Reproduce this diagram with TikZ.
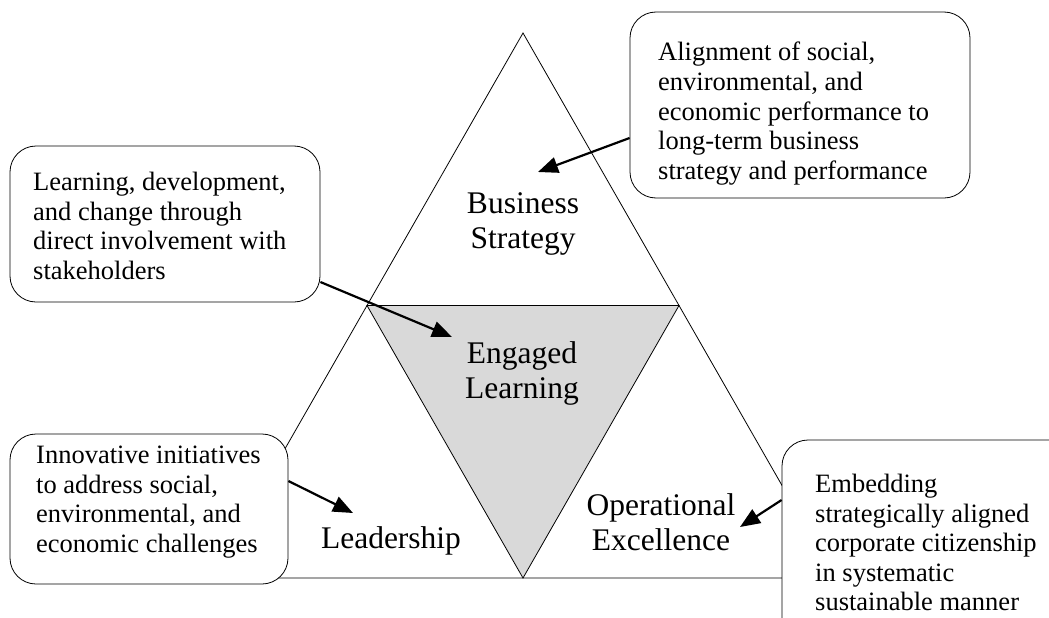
\documentclass[tikz,border=0pt]{standalone}
\usepackage{fontspec}
\setmainfont{Liberation Serif}
\usetikzlibrary{arrows.meta,calc}
\tikzset{
  tri/.style={draw=black,line width=0.8pt},
  box/.style={draw=black,line width=0.8pt,fill=white,rounded corners=26pt,inner sep=0pt},
  boxtext/.style={anchor=north west,inner sep=0pt,align=left,font=\fontsize{26.5}{29.6}\selectfont},
  biglabel/.style={inner sep=0pt,align=center,font=\fontsize{31.5}{35}\selectfont},
  arr/.style={line width=2.2pt,-{Triangle[length=20pt,width=16pt]}}
}
\begin{document}
\begin{tikzpicture}[x=1pt,y=-1pt]
\useasboundingbox (0,0) rectangle (1049,618);
\clip (0,0) rectangle (1049,618);
% triangle corners
\coordinate (A) at (523,33);
\coordinate (L) at (211,578);
\coordinate (R) at (835,578);
\coordinate (ML) at ($(A)!0.5!(L)$);
\coordinate (MR) at ($(A)!0.5!(R)$);
\coordinate (MB) at ($(L)!0.5!(R)$);
\fill[fill=black!15] (ML) -- (MR) -- (MB) -- cycle;
\draw[tri] (A) -- (L) -- (R) -- cycle;
\draw[tri] (ML) -- (MR) -- (MB) -- cycle;
% boxes
\node[box,minimum width=340pt,minimum height=186pt] (tr) at (800,105) {};
\node[box,minimum width=310pt,minimum height=156pt] (lt) at (165,224) {};
\node[box,minimum width=278pt,minimum height=150pt] (lb) at (149,509) {};
\node[box,minimum width=310pt,minimum height=210pt] (rb) at (937,545) {};
% box texts
\node[boxtext] (trt) at (658,42) {Alignment of social,\\environmental, and\\economic performance to\\long-term business\\strategy and performance};
\node[boxtext] (ltt) at (33,172) {Learning, development,\\and change through\\direct involvement with\\stakeholders};
\node[boxtext] (lbt) at (36,446) {Innovative initiatives\\to address social,\\environmental, and\\economic challenges};
\node[boxtext] (rbt) at (815,474) {Embedding\\strategically aligned\\corporate citizenship\\in systematic\\sustainable manner};
% labels
\node[biglabel] (bs) at (523,224) {Business\\Strategy};
\node[biglabel] (el) at (522,373) {Engaged\\Learning};
\node[biglabel] (ld) at (391,541) {Leadership};
\node[biglabel] (oe) at (661,522) {Operational\\Excellence};
% arrow tips
\coordinate (t1) at (452,337);
\coordinate (t2) at (538,172);
\coordinate (t3) at (353,513);
\coordinate (t4) at (740,527);
\draw[arr] ([yshift=-58pt]lt.east) -- (t1);
\draw[arr] ([yshift=-33pt]tr.west) -- (t2);
\draw[arr] ([yshift=28pt]lb.east) -- (t3);
\draw[arr] ([yshift=45pt]rb.west) -- (t4);
\end{tikzpicture}
\end{document}
